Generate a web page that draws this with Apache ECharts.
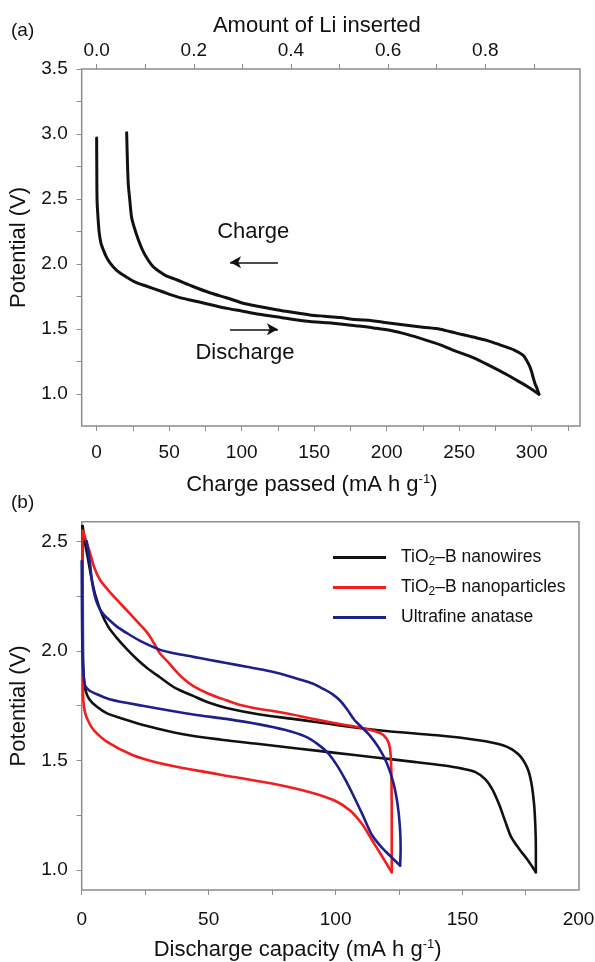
<!DOCTYPE html>
<html>
<head>
<meta charset="utf-8">
<script src="https://cdn.jsdelivr.net/npm/echarts@6/dist/echarts.min.js"></script>
<style>
  html, body { margin: 0; padding: 0; background: #fff; }
  #chart { width: 595px; height: 962px; }
</style>
</head>
<body>
<div id="chart"></div>
<script>
// ---- panel (a): first cycle, charge passed (mA h g-1) vs potential (V)
const aDischarge = [
  [0, 2.97], [0.1, 2.75], [0.3, 2.49], [1.0, 2.35], [1.8, 2.24], [3, 2.16], [4.6, 2.11],
  [6.5, 2.06], [9.2, 2.01], [14, 1.95], [20.7, 1.90], [27, 1.86], [34.5, 1.83], [45, 1.79],
  [55.2, 1.75], [66, 1.72], [78, 1.69], [90, 1.66], [100, 1.64], [112, 1.615], [124, 1.595],
  [136, 1.575], [147, 1.56], [158, 1.55], [168, 1.54], [180, 1.525], [191, 1.51], [203, 1.49],
  [214, 1.46], [226, 1.42], [237, 1.38], [248, 1.33], [260, 1.28], [271, 1.22], [283, 1.15],
  [290, 1.105], [297, 1.06], [305, 1.0]
];
const aCharge = [
  [305, 1.0], [303.5, 1.05], [302.3, 1.08], [300.5, 1.15], [298.8, 1.21], [296.5, 1.26],
  [294, 1.30], [288, 1.34], [278, 1.38], [270, 1.41], [259.7, 1.44], [248, 1.47], [236.8, 1.50],
  [225, 1.515], [213.8, 1.53], [200, 1.55], [190, 1.565], [178, 1.575], [167.8, 1.59],
  [157, 1.60], [147, 1.61], [135, 1.63], [124, 1.65], [112, 1.675], [101, 1.70], [90, 1.74],
  [78, 1.78], [66, 1.83], [55.2, 1.88], [48, 1.91], [43.7, 1.94], [39, 1.98], [35.6, 2.03],
  [32, 2.10], [28.7, 2.19], [26, 2.28], [24.1, 2.36], [22.8, 2.50], [21.8, 2.62], [21.2, 2.80],
  [20.7, 3.01]
];
const chargeArrow = [[125, 2.014], [92, 2.014]];
const dischargeArrow = [[92, 1.499], [125, 1.499]];
const aNotes = [[108, 2.25, 'Charge'], [102.3, 1.32, 'Discharge']];

const aXTicks = [0, 25, 50, 75, 100, 125, 150, 175, 200, 225, 250, 275, 300, 325];
const aXLabels = [0, 50, 100, 150, 200, 250, 300];
const liTicks = [0, 0.1, 0.2, 0.3, 0.4, 0.5, 0.6, 0.7, 0.8, 0.9];
const liLabels = [0, 0.2, 0.4, 0.6, 0.8];
const aYTicks = [1.0, 1.25, 1.5, 1.75, 2.0, 2.25, 2.5, 2.75, 3.0, 3.25, 3.5];
const aYLabels = [1.0, 1.5, 2.0, 2.5, 3.0, 3.5];
const mAhPerLi = 335;

// ---- panel (b): discharge capacity (mA h g-1) vs potential (V)
const wireDischarge = [
  [0.3, 2.57], [0.4, 2.3], [0.5, 2.0], [0.8, 1.88], [1.5, 1.82], [3, 1.78], [6, 1.745],
  [10, 1.715], [15, 1.695], [25, 1.66], [40, 1.62], [55, 1.595], [70, 1.575], [85, 1.555],
  [100, 1.535], [115, 1.515], [130, 1.495], [142, 1.478], [150, 1.463], [155, 1.448],
  [159, 1.415], [162, 1.365], [164.5, 1.30], [167, 1.22], [169.3, 1.15], [172.5, 1.095],
  [175.5, 1.05], [179, 0.99]
];
const wireCharge = [
  [179, 0.99], [179, 1.1], [178.8, 1.2], [178.3, 1.3], [177.2, 1.4], [175.5, 1.47], [172, 1.53],
  [166, 1.57], [155, 1.595], [140, 1.615], [120, 1.635], [101.7, 1.66], [83.3, 1.69],
  [70.2, 1.71], [57.1, 1.74], [50, 1.765], [43.9, 1.795], [37, 1.83], [30.8, 1.88], [26, 1.92],
  [22, 1.96], [17.7, 2.01], [13.8, 2.06], [10.5, 2.11], [7.9, 2.17], [5.5, 2.25], [3.9, 2.33],
  [2.5, 2.42], [1.5, 2.48], [0.4, 2.57]
];
const particleDischarge = [
  [0.3, 2.55], [0.3, 2.2], [0.4, 1.9], [0.6, 1.78], [1.3, 1.72], [3, 1.67], [5, 1.635],
  [10, 1.585], [20, 1.525], [30, 1.49], [45, 1.455], [60, 1.425], [75, 1.395], [90, 1.355],
  [100, 1.315], [106, 1.27], [110.5, 1.21], [114.4, 1.137], [118, 1.07], [122.2, 0.99]
];
const particleCharge = [
  [122.2, 0.99], [122.2, 1.2], [122.1, 1.4], [121.8, 1.52], [121, 1.58], [119, 1.615], [116, 1.632],
  [110, 1.65], [100, 1.67], [91, 1.69], [83, 1.71], [76, 1.725], [70, 1.735], [63, 1.752],
  [57, 1.775], [50, 1.805], [44, 1.84], [40.5, 1.87], [37.4, 1.905], [34, 1.95], [30.8, 1.99],
  [28.5, 2.035], [26.9, 2.066], [25, 2.095], [23, 2.12], [19, 2.17], [15, 2.22], [11, 2.27],
  [7.2, 2.325], [5, 2.38], [3.3, 2.447], [1.8, 2.50], [0.6, 2.546]
];
const anataseDischarge = [
  [0, 2.41], [0.1, 2.2], [0.3, 2.0], [0.7, 1.9], [1.4, 1.84], [3, 1.82], [4.6, 1.81],
  [11, 1.78], [24, 1.75], [44, 1.71], [57, 1.69], [70, 1.665], [80, 1.64], [88, 1.61],
  [93, 1.575], [97, 1.535], [100.5, 1.48], [104, 1.41], [107.5, 1.33], [111, 1.245],
  [114.4, 1.16], [118.5, 1.1], [122, 1.06], [125.5, 1.02]
];
const anataseCharge = [
  [125.5, 1.02], [125.7, 1.10], [125.4, 1.2], [124.5, 1.3], [122.8, 1.4], [120.2, 1.49],
  [117, 1.56], [113.5, 1.615], [110.5, 1.65], [107.5, 1.685], [104.5, 1.735], [101.7, 1.775],
  [98.5, 1.805], [95, 1.828], [91.2, 1.85], [85, 1.873], [78, 1.897], [71, 1.915], [65, 1.928],
  [57, 1.945], [50, 1.96], [44, 1.973], [37, 1.988], [31, 2.005], [24, 2.04], [18, 2.08],
  [14, 2.11], [11, 2.14], [8.8, 2.165], [7.2, 2.19], [5.7, 2.23], [4.6, 2.28], [3.8, 2.34],
  [3.3, 2.40], [2.6, 2.45], [2.0, 2.50]
];
const bXTicks = [0, 25, 50, 75, 100, 125, 150, 175];
const bXLabels = [0, 50, 100, 150, 200];
const bYTicks = [1.0, 1.25, 1.5, 1.75, 2.0, 2.25, 2.5];
const bYLabels = [1.0, 1.5, 2.0, 2.5];
const bNames = ['TiO2–B nanowires', 'TiO2–B nanoparticles', 'Ultrafine anatase'];
const bColors = ['#111111', '#f41c1c', '#1f1f8c'];

const font = "'Liberation Sans', Arial, Helvetica, sans-serif";
const gray = '#8c8c8c';
const tick = vals => ({ show: true, inside: false, length: 5, customValues: vals, lineStyle: { color: gray, width: 1 } });
const lbl = (vals, margin, fmt) => ({ show: true, customValues: vals, margin: margin, fontSize: 19, color: '#111', fontFamily: font, formatter: fmt });
const fix1 = v => v.toFixed(1);
const nameStyle = pad => ({
  fontSize: 22, color: '#111', fontFamily: font, padding: pad || 0,
  rich: {
    n: { fontSize: 22, fontFamily: font, color: '#111' },
    sup: { fontSize: 13, fontFamily: font, color: '#111', padding: [0, 0, 11, 0] }
  }
});

const chart = echarts.init(document.getElementById('chart'), null, { renderer: 'canvas' });

const line = (name, data, color, width, xi, yi) => ({
  name: name, type: 'line', data: data, xAxisIndex: xi, yAxisIndex: yi,
  symbol: 'none', smooth: 0.3, silent: true, animation: false,
  lineStyle: { color: color, width: width, join: 'round', cap: 'round' }, itemStyle: { color: color }
});

const chargeSeries = line('a-charge', aCharge, '#111', 3, 0, 0);
chargeSeries.markLine = {
  silent: true, animation: false, symbol: ['none', 'arrow'], symbolSize: [9, 11],
  label: { show: false },
  lineStyle: { color: '#111', width: 1.6, type: 'solid', cap: 'butt' },
  data: [
    [{ coord: chargeArrow[0] }, { coord: chargeArrow[1] }],
    [{ coord: dischargeArrow[0] }, { coord: dischargeArrow[1] }]
  ]
};

const legendFont = 17.5;
const option = {
  animation: false,
  backgroundColor: '#fff',
  textStyle: { fontFamily: font },
  title: [
    { text: '(a)', left: 6, top: 16, textStyle: { fontSize: 19, fontWeight: 'normal', color: '#111', fontFamily: font } },
    { text: '(b)', left: 6, top: 488, textStyle: { fontSize: 19, fontWeight: 'normal', color: '#111', fontFamily: font } }
  ],
  grid: [
    { left: 81.7, right: 15, top: 69, height: 357, show: true, borderColor: gray, borderWidth: 1.5, containLabel: false, outerBoundsMode: 'none' },
    { left: 81.7, right: 16, top: 521.7, height: 368.3, show: true, borderColor: gray, borderWidth: 1.5, containLabel: false, outerBoundsMode: 'none' },
    { left: 81.7, right: 5.5, top: 521.7, height: 368.3, show: false, containLabel: false, outerBoundsMode: 'none' }
  ],
  legend: {
    data: bNames, orient: 'vertical', left: 333, top: 548.5, padding: 0,
    icon: 'rect', itemWidth: 53, itemHeight: 3, itemGap: 10.5, selectedMode: false,
    formatter: n => '{g| }' + (n.indexOf('TiO2') === 0 ? '{t|TiO}{s|2}{t|' + n.slice(4) + '}' : '{t|' + n + '}'),
    textStyle: {
      fontFamily: font, fontSize: legendFont, color: '#111',
      rich: {
        g: { width: 10, fontSize: legendFont },
        t: { fontSize: legendFont, fontFamily: font, color: '#111', lineHeight: 21 },
        s: { fontSize: 12, fontFamily: font, color: '#111', padding: [9, 0, 0, 0] }
      }
    }
  },
  xAxis: [
    {
      type: 'value', gridIndex: 0, position: 'bottom', min: -10.3, max: 333.3,
      axisLine: { show: false, onZero: false }, splitLine: { show: false },
      axisTick: tick(aXTicks), axisLabel: lbl(aXLabels, 17),
      name: '{n|Charge passed (mA h g}{sup|-1}{n|)}', nameLocation: 'middle', nameGap: 47,
      nameTextStyle: nameStyle([0, 38, 0, 0])
    },
    {
      type: 'value', gridIndex: 0, position: 'top', min: -10.3 / mAhPerLi, max: 333.3 / mAhPerLi,
      axisLine: { show: false, onZero: false }, splitLine: { show: false },
      axisTick: tick(liTicks), axisLabel: lbl(liLabels, 9, fix1),
      name: 'Amount of Li inserted', nameLocation: 'middle', nameGap: 32,
      nameTextStyle: nameStyle([0, 28, 0, 0])
    },
    {
      type: 'value', gridIndex: 1, position: 'bottom', min: 0, max: 196,
      axisLine: { show: false, onZero: false }, splitLine: { show: false },
      axisTick: tick(bXTicks), axisLabel: { show: false }
    },
    {
      type: 'value', gridIndex: 2, position: 'bottom', min: 0, max: 200,
      axisLine: { show: false, onZero: false }, splitLine: { show: false }, axisTick: { show: false },
      axisLabel: Object.assign(lbl(bXLabels, 20, v => v === 200 ? '{r|' + v + '}' : String(v)), {
        rich: { r: { fontSize: 19, fontFamily: font, color: '#111', padding: [0, 22, 0, 0] } }
      }),
      name: '{n|Discharge capacity (mA h g}{sup|-1}{n|)}', nameLocation: 'middle', nameGap: 48,
      nameTextStyle: nameStyle([0, 76, 0, 0])
    }
  ],
  yAxis: [
    {
      type: 'value', gridIndex: 0, min: 0.756, max: 3.5,
      axisLine: { show: false, onZero: false }, splitLine: { show: false },
      axisTick: tick(aYTicks), axisLabel: lbl(aYLabels, 14, fix1),
      name: 'Potential (V)', nameLocation: 'middle', nameGap: 45, nameTextStyle: nameStyle()
    },
    {
      type: 'value', gridIndex: 1, min: 0.909, max: 2.59,
      axisLine: { show: false, onZero: false }, splitLine: { show: false },
      axisTick: tick(bYTicks), axisLabel: lbl(bYLabels, 14, fix1),
      name: 'Potential (V)', nameLocation: 'middle', nameGap: 45, nameTextStyle: nameStyle()
    },
    { type: 'value', gridIndex: 2, min: 0, max: 1, show: false }
  ],
  series: [
    line('a-discharge', aDischarge, '#111', 3, 0, 0),
    chargeSeries,
    {
      type: 'scatter', xAxisIndex: 0, yAxisIndex: 0, symbolSize: 0, silent: true, data: aNotes,
      itemStyle: { opacity: 1, color: '#111' },
      label: { show: true, position: 'inside', formatter: p => p.data[2], fontSize: 22, color: '#111', opacity: 1, fontFamily: font }
    },
    line(bNames[0], wireDischarge, bColors[0], 2.6, 2, 1),
    line(bNames[0], wireCharge, bColors[0], 2.6, 2, 1),
    line(bNames[1], particleDischarge, bColors[1], 2.6, 2, 1),
    line(bNames[1], particleCharge, bColors[1], 2.6, 2, 1),
    line(bNames[2], anataseDischarge, bColors[2], 2.6, 2, 1),
    line(bNames[2], anataseCharge, bColors[2], 2.6, 2, 1)
  ]
};

chart.setOption(option);
</script>
</body>
</html>
